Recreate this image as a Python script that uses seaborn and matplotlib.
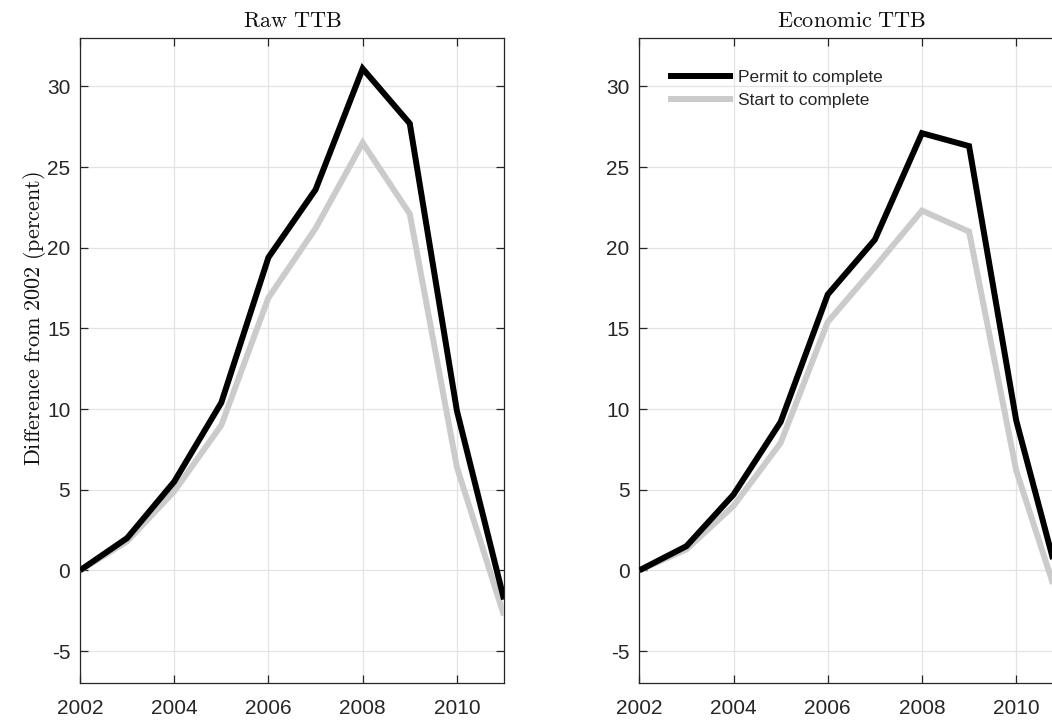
import numpy as np
import pandas as pd
import matplotlib
matplotlib.use("Agg")
import matplotlib.pyplot as plt
import seaborn as sns

# Years on the x axis
years = [2002, 2003, 2004, 2005, 2006, 2007, 2008, 2009, 2010, 2011]

# Raw time-to-build, difference from 2002 (percent)
raw_permit = [0.0, 2.0, 5.5, 10.4, 19.4, 23.6, 31.1, 27.7, 9.9, -1.8]
raw_start = [0.0, 1.8, 4.9, 9.0, 16.9, 21.2, 26.5, 22.1, 6.4, -2.8]

# Economic time-to-build, difference from 2002 (percent)
econ_permit = [0.0, 1.5, 4.7, 9.2, 17.1, 20.5, 27.1, 26.3, 9.3, -1.7]
econ_start = [0.0, 1.3, 4.0, 7.9, 15.4, 18.8, 22.3, 21.0, 6.2, -2.8]

series_labels = ["Permit to complete", "Start to complete"]
panel_titles = ["Raw TTB", "Economic TTB"]
y_label = "Difference from 2002 (percent)"
x_ticks = [2002, 2004, 2006, 2008, 2010]
y_ticks = [-5, 0, 5, 10, 15, 20, 25, 30]

sns.set_theme(style="whitegrid")
plt.rcParams["font.family"] = ["Liberation Sans", "DejaVu Sans"]
plt.rcParams["mathtext.fontset"] = "cm"
plt.rcParams["axes.unicode_minus"] = False

W, H = 1052, 725
fig = plt.figure(figsize=(W / 100, H / 100), dpi=100)
fig.patch.set_facecolor("white")

def fx(px):
    return px / W

def fy(py):
    return 1 - py / H

ax_top, ax_bot = 38.0, 683.3
ax_w = 424.0
lefts = [80.0, 639.3]
axes = [fig.add_axes([fx(l), fy(ax_bot), fx(ax_w), (ax_bot - ax_top) / H]) for l in lefts]

black = "#000000"
gray = "#cbcbcb"
lw = 4.3
edge = "#262626"

def as_roman(s):
    return r"$\mathrm{" + s.replace(" ", r"\ ") + "}$"

panels = [(raw_permit, raw_start), (econ_permit, econ_start)]
for ax, (permit, start), title in zip(axes, panels, panel_titles):
    df = pd.DataFrame({
        "year": years * 2,
        "value": permit + start,
        "series": [series_labels[0]] * len(years) + [series_labels[1]] * len(years),
    })
    sns.lineplot(data=df[df.series == series_labels[1]], x="year", y="value",
                 color=gray, lw=lw, ax=ax, zorder=3, label=series_labels[1],
                 solid_capstyle="butt", solid_joinstyle="miter")
    sns.lineplot(data=df[df.series == series_labels[0]], x="year", y="value",
                 color=black, lw=lw, ax=ax, zorder=4, label=series_labels[0],
                 solid_capstyle="butt", solid_joinstyle="miter")

    ax.set_xlim(2002, 2011)
    ax.set_ylim(-7, 33)
    ax.set_xticks(x_ticks)
    ax.set_yticks(y_ticks)
    ax.set_xticklabels([str(t) for t in x_ticks])
    ax.set_yticklabels([str(t) for t in y_ticks])
    ax.set_xlabel("")
    ax.set_ylabel("")
    ax.grid(True, color="#e3e3e3", lw=0.9)
    ax.set_axisbelow(True)
    for s in ax.spines.values():
        s.set_visible(True)
        s.set_color(edge)
        s.set_linewidth(0.9)
    ax.tick_params(axis="both", which="major", direction="in", length=6, width=0.9,
                   color=edge, labelcolor=edge, labelsize=15,
                   top=True, right=True, bottom=True, left=True)
    ax.tick_params(axis="x", pad=11)
    ax.tick_params(axis="y", pad=7)
    ax.set_title(as_roman(title), fontsize=16, pad=8, color="#111111")
    ax.get_legend().remove()

axes[0].set_ylabel(as_roman(y_label), fontsize=16, color="#111111")
axes[0].yaxis.set_label_coords(-0.076, 0.565)

# Legend in the right panel, black series first
h, l = axes[1].get_legend_handles_labels()
order = [l.index(series_labels[0]), l.index(series_labels[1])]
axes[1].legend([h[i] for i in order], [l[i] for i in order],
               loc="upper left", bbox_to_anchor=(0.068, 0.950),
               frameon=False, fontsize=12.5, handlelength=3.75,
               handletextpad=0.25, labelspacing=0.41,
               borderpad=0, borderaxespad=0)

fig.savefig("out.png", dpi=100, facecolor="white")
